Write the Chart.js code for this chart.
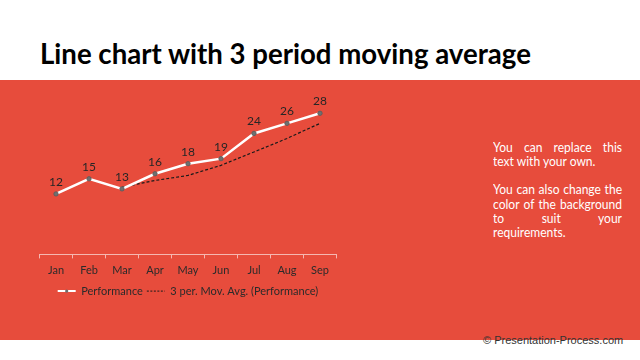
<!DOCTYPE html>
<html>
<head>
<meta charset="utf-8">
<script src="https://cdn.jsdelivr.net/npm/chart.js@4.4.0/dist/chart.umd.min.js"></script>
<style>
  html, body { margin: 0; padding: 0; background: #ffffff; }
  body { width: 640px; height: 360px; position: relative; overflow: hidden; font-family: Lato, sans-serif; }
  #band { position: absolute; left: 0; top: 80px; width: 640px; height: 260px; background: #E74C3C; }
  #title { position: absolute; left: 40px; top: 36.5px; font: 700 27.6px Lato, sans-serif; line-height: normal; color: #000; white-space: nowrap; }
  #wrap { position: absolute; left: 0; top: 80px; width: 360px; height: 230px; }
  #side { position: absolute; left: 493px; top: 139.8px; width: 150px; font: 400 14px Lato, sans-serif; line-height: 14.2px; color: #fff; transform: scaleX(0.86); transform-origin: 0 0; }
  #side div { white-space: nowrap; text-align: justify; text-align-last: justify; height: 14.2px; }
  #side div.last { text-align-last: left; }
  #foot { position: absolute; left: 483px; top: 334px; font: 400 11px "Liberation Sans", Arial, sans-serif; color: #333; white-space: nowrap; }
</style>
</head>
<body>
<div id="band"></div>
<div id="title">Line chart with 3 period moving average</div>
<div id="wrap"><canvas id="c"></canvas></div>
<div id="side">
  <div>You can replace this</div>
  <div class="last">text with your own.</div>
  <div class="gap"></div>
  <div>You can also change the</div>
  <div>color of the background</div>
  <div>to suit your</div>
  <div class="last">requirements.</div>
</div>
<div id="foot">© Presentation-Process.com</div>
<script>
const months = ["Jan", "Feb", "Mar", "Apr", "May", "Jun", "Jul", "Aug", "Sep"];
const performance = [12, 15, 13, 16, 18, 19, 24, 26, 28];
const movingAvg = [null, null, 13.33, 14.67, 15.67, 17.67, 20.33, 23.00, 26.00];
const seriesNames = ["Performance", "3 per. Mov. Avg. (Performance)"];

const dataLabels = {
  id: 'dataLabels',
  afterDatasetsDraw(chart) {
    const ctx = chart.ctx;
    const meta = chart.getDatasetMeta(0);
    ctx.save();
    ctx.font = '400 12px Lato, sans-serif';
    ctx.fillStyle = '#262626';
    ctx.textAlign = 'center';
    ctx.textBaseline = 'middle';
    meta.data.forEach((pt, i) => {
      ctx.fillText(String(chart.data.datasets[0].data[i]), pt.x, pt.y - 12);
    });
    ctx.restore();
  }
};

const legendDot = {
  id: 'legendDot',
  afterDraw(chart) {
    const lg = chart.legend;
    if (!lg || !lg.legendHitBoxes || !lg.legendHitBoxes[0]) return;
    const hb = lg.legendHitBoxes[0];
    const ctx = chart.ctx;
    const bw = lg.options.labels.pointStyleWidth;
    ctx.save();
    ctx.fillStyle = '#6e6e6e';
    ctx.beginPath();
    ctx.arc(hb.left + bw / 2, hb.top + 5.5, 1.6, 0, Math.PI * 2);
    ctx.fill();
    ctx.restore();
  }
};

new Chart(document.getElementById('c'), {
  type: 'line',
  data: {
    labels: months,
    datasets: [
      {
        label: seriesNames[0],
        data: performance,
        borderColor: '#ffffff',
        borderWidth: 2.5,
        pointRadius: 2.2,
        pointBackgroundColor: '#707070',
        pointBorderColor: '#5a5a5a',
        pointBorderWidth: 0.8,
        tension: 0,
        order: 1
      },
      {
        label: seriesNames[1],
        data: movingAvg,
        borderColor: '#1a1a1a',
        borderWidth: 1.2,
        borderDash: [3, 2],
        pointRadius: 0,
        tension: 0,
        order: 2
      }
    ]
  },
  options: {
    responsive: true,
    maintainAspectRatio: false,
    animation: false,
    layout: { padding: { left: 39.5, right: 23.5, top: 23.2, bottom: 3.4 } },
    scales: {
      x: {
        offset: true,
        grid: { offset: true, drawOnChartArea: false, drawTicks: true, tickLength: 4, color: 'rgba(255,255,255,0.6)' },
        border: { display: true, color: 'rgba(255,255,255,0.6)', width: 1 },
        ticks: { color: '#2b2b2b', font: { family: 'Lato', size: 11 }, padding: 5 }
      },
      y: {
        display: false,
        min: 0,
        max: 30
      }
    },
    plugins: {
      legend: {
        position: 'bottom',
        labels: {
          usePointStyle: true,
          pointStyle: 'line',
          pointStyleWidth: 18,
          padding: 4,
          color: '#2b2b2b',
          font: { family: 'Lato', size: 11 },
          generateLabels(chart) {
            return chart.data.datasets.map((ds, i) => ({
              text: ds.label,
              datasetIndex: i,
              pointStyle: 'line',
              strokeStyle: ds.borderColor,
              fillStyle: ds.borderColor,
              lineWidth: i === 0 ? 2 : 1,
              lineDash: i === 0 ? [] : [2, 1.5],
              fontColor: '#2b2b2b',
              hidden: false
            }));
          }
        }
      },
      tooltip: { enabled: false }
    }
  },
  plugins: [dataLabels, legendDot]
});
</script>
</body>
</html>
